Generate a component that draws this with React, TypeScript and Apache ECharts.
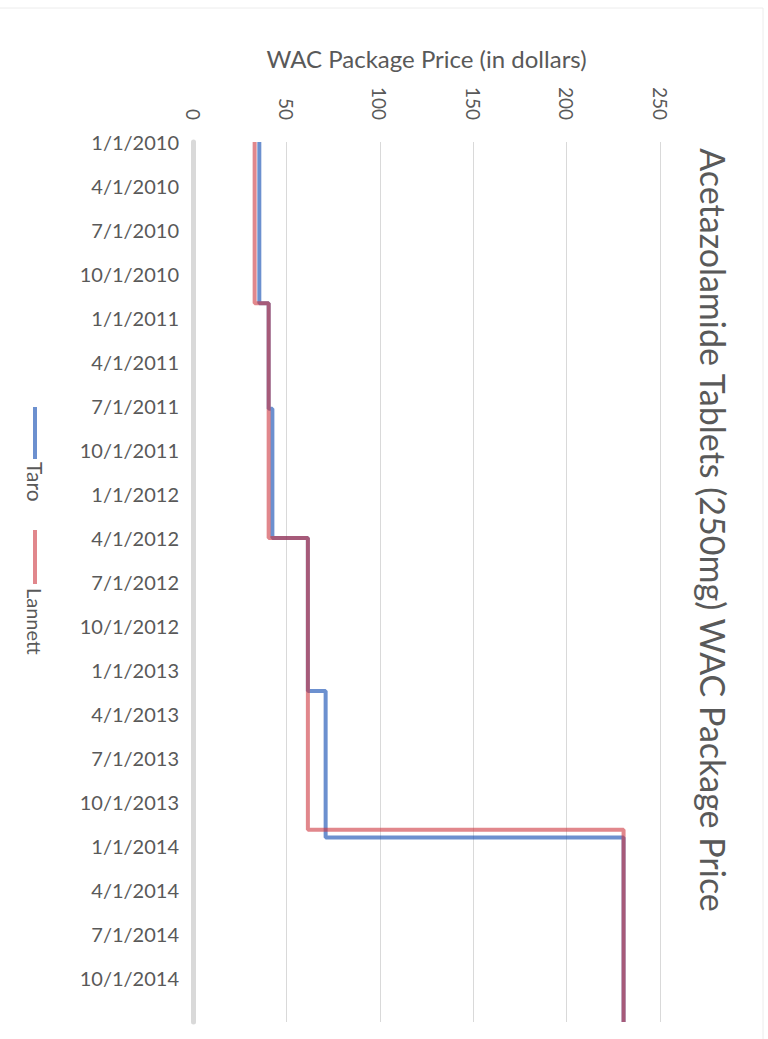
import React, { useEffect, useRef } from 'react';
import * as echarts from 'echarts';

const chartTitle = 'Acetazolamide Tablets (250mg) WAC Package Price';
const valueAxisName = 'WAC Package Price (in dollars)';
const valueMin = 0;
const valueMax = 250;
const valueStep = 50;
const seriesNames = ['Taro', 'Lannett'];
const axisStartYear = 2010;
const axisMonths = 60;
const tickStepMonths = 3;

const taroDates = ['2010-01-01', '2010-12-01', '2011-07-07', '2012-04-01', '2013-02-13', '2013-12-14', '2015-01-01'];
const taroPrices = [35.5, 40.5, 42.5, 61.5, 71, 230.5, 230.5];
const lannettDates = ['2010-01-01', '2010-12-01', '2012-04-01', '2013-11-28', '2015-01-01'];
const lannettPrices = [33, 40.5, 61.5, 230.5, 230.5];

const TARO_COLOR = 'rgba(10,70,175,0.6)';
const LANNETT_COLOR = 'rgba(205,55,63,0.6)';
const TEXT_COLOR = '#595959';
const FONT = 'Lato, "Open Sans", sans-serif';

function monthsFromStart(d: string): number {
  const [y, m, day] = d.split('-').map(Number);
  const dim = new Date(y, m, 0).getDate();
  return (y - axisStartYear) * 12 + (m - 1) + (day - 1) / dim;
}

function monthLabel(v: number): string {
  if (v >= axisMonths) return '';
  const r = Math.round(v);
  return `${(r % 12) + 1}/1/${axisStartYear + Math.floor(r / 12)}`;
}

export default function App() {
  const ref = useRef<HTMLDivElement>(null);
  useEffect(() => {
    document.body.style.margin = '0';
    if (!ref.current) return;
    const chart = echarts.init(ref.current, undefined, { renderer: 'svg' });
    const lineSeries = (name: string, dates: string[], prices: number[], color: string) => ({
      name,
      type: 'line',
      step: 'start',
      symbol: 'none',
      showSymbol: false,
      silent: true,
      lineStyle: { color, width: 4 },
      itemStyle: { color },
      emphasis: { disabled: true },
      data: dates.map((d, i) => [prices[i], monthsFromStart(d)]),
    });
    chart.setOption({
      animation: false,
      backgroundColor: '#ffffff',
      grid: { left: 193, right: 108, top: 142, bottom: 17 },
      xAxis: {
        type: 'value',
        position: 'top',
        min: valueMin,
        max: valueMax,
        interval: valueStep,
        name: valueAxisName,
        nameLocation: 'middle',
        nameGap: 72,
        nameTextStyle: { fontSize: 24, color: TEXT_COLOR, fontFamily: FONT },
        axisLine: { show: false },
        axisTick: { show: false },
        axisLabel: { rotate: -90, margin: 22, fontSize: 19, color: TEXT_COLOR, fontFamily: FONT },
        splitLine: { lineStyle: { color: '#d9d9d9', width: 1 } },
      },
      yAxis: {
        type: 'value',
        inverse: true,
        min: 0,
        max: axisMonths,
        interval: tickStepMonths,
        axisLine: { show: true, lineStyle: { color: '#d9d9d9', width: 5 } },
        axisTick: { show: false },
        splitLine: { show: false },
        axisLabel: {
          margin: 14,
          fontSize: 20,
          color: TEXT_COLOR,
          fontFamily: FONT,
          formatter: (v: number) => monthLabel(v),
        },
      },
      graphic: [
        {
          type: 'rect',
          silent: true,
          shape: { x: -2, y: 8, width: 765, height: 1040 },
          style: { fill: 'none', stroke: '#ececec', lineWidth: 1 },
        },
        {
          type: 'text',
          x: 713,
          y: 530,
          rotation: -Math.PI / 2,
          style: {
            text: chartTitle,
            fontSize: 34,
            fontFamily: FONT,
            fill: TEXT_COLOR,
            align: 'center',
            verticalAlign: 'middle',
            textAlign: 'center',
            textVerticalAlign: 'middle',
          },
        },
        {
          type: 'line',
          shape: { x1: 35, y1: 407, x2: 35, y2: 459 },
          style: { stroke: TARO_COLOR, lineWidth: 4 },
        },
        {
          type: 'text',
          x: 35,
          y: 462,
          rotation: -Math.PI / 2,
          style: {
            text: seriesNames[0],
            fontSize: 21,
            fontFamily: FONT,
            fill: TEXT_COLOR,
            align: 'left',
            verticalAlign: 'middle',
            textAlign: 'left',
            textVerticalAlign: 'middle',
          },
        },
        {
          type: 'line',
          shape: { x1: 35, y1: 530, x2: 35, y2: 584 },
          style: { stroke: LANNETT_COLOR, lineWidth: 4 },
        },
        {
          type: 'text',
          x: 35,
          y: 588,
          rotation: -Math.PI / 2,
          style: {
            text: seriesNames[1],
            fontSize: 20,
            fontFamily: FONT,
            fill: TEXT_COLOR,
            align: 'left',
            verticalAlign: 'middle',
            textAlign: 'left',
            textVerticalAlign: 'middle',
          },
        },
      ],
      series: [
        lineSeries(seriesNames[0], taroDates, taroPrices, TARO_COLOR),
        lineSeries(seriesNames[1], lannettDates, lannettPrices, LANNETT_COLOR),
      ],
    });
    return () => chart.dispose();
  }, []);
  return <div ref={ref} style={{ width: 768, height: 1039 }} />;
}
